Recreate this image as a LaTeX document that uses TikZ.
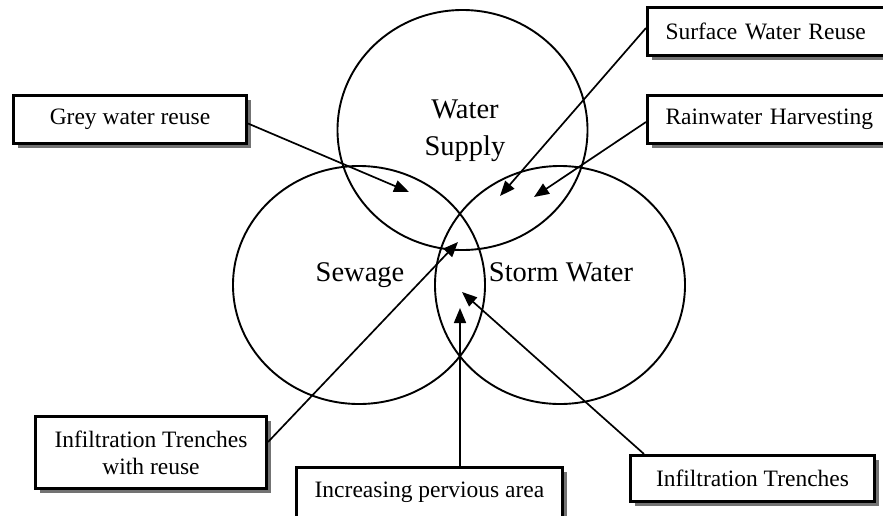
\documentclass[tikz,border=0pt]{standalone}
\usepackage{fontspec}
\setmainfont{Liberation Serif}
\usetikzlibrary{arrows.meta,shadows}
\begin{document}
\begin{tikzpicture}[x=1pt,y=-1pt,
  lbl/.style={draw=black, line width=3pt, fill=white,
    font=\fontsize{23.5}{27}\selectfont, align=center,
    drop shadow={shadow xshift=4.5pt, shadow yshift=-4.5pt, fill=black!55, opacity=1}},
  sidebox/.style={lbl, anchor=west, text width=240pt, align=left,
    inner xsep=18pt, minimum height=48pt},
  ring/.style={line width=1.9pt},
  ringtext/.style={font=\fontsize{28.5}{37}\selectfont, align=center},
  arr/.style={line width=1.7pt, -{Triangle[length=15pt, width=12pt]}}]
\useasboundingbox (0,0) rectangle (883,515);
\fill[white] (0,0) rectangle (883,515);
\clip (0,0) rectangle (883,515);

% the three overlapping service areas
\draw[ring] (462.5,130) ellipse [x radius=125, y radius=120];
\draw[ring] (359,285) ellipse [x radius=126, y radius=119];
\draw[ring] (560,285) ellipse [x radius=125, y radius=119];
\node[ringtext] (ws) at (465,131) {Water\\Supply};
\node[ringtext] (sew) at (360,275) {Sewage};
\node[ringtext] (stw) at (561,272) {Storm Water};

% arrow targets inside the overlaps
\coordinate (tGW) at (409,192);
\coordinate (tSW) at (500,196);
\coordinate (tRW) at (534,197);
\coordinate (tIR) at (458,242);
\coordinate (tPV) at (460,308);
\coordinate (tIT) at (462,292);

% labelled practices
\node[lbl, minimum width=233pt, minimum height=48pt] (gwr) at (130,119.5) {Grey water reuse};
\node[sidebox] (swr) at (646,31) {Surface Water Reuse};
\node[sidebox] (rwh) at (646,119.5) {Rainwater Harvesting};
\node[lbl, minimum width=231pt, minimum height=72pt] (itr) at (151,452.5) {Infiltration Trenches\\with reuse};
\node[lbl, anchor=north, minimum width=266pt, inner ysep=8pt,
      text height=22pt, text depth=30pt] (ipa) at (429.5,466) {Increasing pervious area};
\node[lbl, minimum width=244pt, minimum height=46pt] (itt) at (752.5,478.5) {Infiltration Trenches};

% connectors
\draw[arr] ([yshift=-4pt]gwr.east) -- (tGW);
\draw[arr] ([yshift=3pt]swr.west) -- (tSW);
\draw[arr] ([yshift=-2.5pt]rwh.west) -- (tRW);
\draw[arr] ([yshift=10.5pt]itr.east) -- (tIR);
\draw[arr] (ipa.north -| tPV) -- (tPV);
\draw[arr] ([xshift=15pt]itt.north west) -- (tIT);
\end{tikzpicture}
\end{document}
